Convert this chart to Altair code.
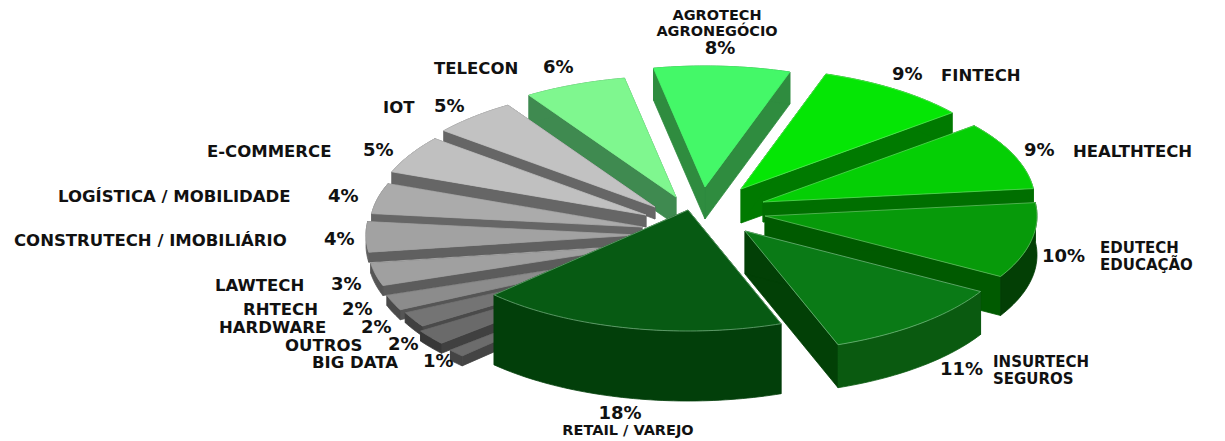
import math
import altair as alt

# Slices, counter-clockwise from the front, starting with Insurtech
slices = ["INSURTECH", "EDUTECH", "HEALTHTECH", "FINTECH", "AGROTECH", "TELECON", "IOT", "E-COMMERCE",
          "LOGISTICA", "CONSTRUTECH", "LAWTECH", "RHTECH", "HARDWARE", "OUTROS", "BIG DATA", "RETAIL"]
values = [11, 10, 9, 9, 8, 6, 5, 5, 4, 4, 3, 2, 2, 2, 1, 18]

# Style of each slice
top_color = ["#0a7a16", "#079a0a", "#05cf05", "#05e605", "#44f868", "#7ff78f", "#c2c2c2", "#c0c0c0",
             "#ababab", "#a2a2a2", "#a0a0a0", "#8c8c8c", "#747474", "#6a6a6a", "#6c6c6c", "#075a13"]
ray_color = ["#024006", "#005a00", "#006f00", "#007a00", "#2f8c3f", "#3f8a50", "#666666", "#666666",
             "#666666", "#606060", "#5c5c5c", "#555555", "#4a4a4a", "#404040", "#444444", "#023c0a"]
arc_color = ["#0a5a10", "#033f05", "#006f00", "#007a00", "#2f8c3f", "#3f8a50", "#666666", "#666666",
             "#666666", "#606060", "#555555", "#4a4a4a", "#404040", "#383838", "#444444", "#023f0a"]
edge_color = ["#6fb97a", "#5fc05f", "#55dd55", "#55ee55", "#44f868", "#7ff78f", "#c2c2c2", "#c0c0c0",
              "#ababab", "#a2a2a2", "#a0a0a0", "#8c8c8c", "#747474", "#6a6a6a", "#6c6c6c", "#6fa97a"]
# Explosion of each slice from the pie centre, and its thickness
explode_x = [55, 75, 73, 51, 15, -14, -35, -44, -48, -52, -50, -46, -41, -43, -34, -2]
explode_y = [1, -14, -28, -41, -43, -33, -23, -15, -3, 5, 16, 26, 29, 34, 41, -20]
thickness = [43, 39, 20, 34, 32, 28, 12, 12, 10, 10, 10, 10, 10, 10, 10, 70]
paint_order = [4, 3, 5, 6, 2, 7, 8, 9, 1, 10, 11, 12, 13, 14, 0, 15]

CENTER_X, CENTER_Y = 690, 230
RX, RY = 272, 121
START = -70.0

# Text labels
side_labels = ["TELECON", "IOT", "E-COMMERCE", "LOGÍSTICA / MOBILIDADE", "CONSTRUTECH / IMOBILIÁRIO",
               "LAWTECH", "RHTECH", "HARDWARE", "OUTROS", "BIG DATA", "FINTECH", "HEALTHTECH"]
side_x = [434, 383, 207, 58, 14, 215, 243, 219, 285, 312, 941, 1073]
side_y = [69, 108, 152, 197, 241, 286, 310, 328, 346, 363, 76, 152]
two_line_labels = ["EDUTECH", "EDUCAÇÃO", "INSURTECH", "SEGUROS"]
two_line_x = [1100, 1100, 993, 993]
two_line_y = [248, 265, 362, 379]
pct_labels = ["6%", "5%", "5%", "4%", "4%", "3%", "2%", "2%", "2%", "1%", "9%", "9%", "10%", "11%"]
pct_x = [543, 434, 363, 328, 324, 331, 342, 361, 388, 423, 892, 1024, 1042, 940]
pct_y = [68, 107, 151, 197, 240, 285, 310, 328, 345, 362, 75, 151, 257, 370]
center_labels = ["AGROTECH", "AGRONEGÓCIO", "RETAIL / VAREJO"]
center_x = [717, 717, 628]
center_y = [16, 32, 431]
center_pct = ["8%", "18%"]
center_pct_x = [720, 620]
center_pct_y = [49, 414]


def poly(points, fill, line):
    ring = [list(p) for p in points] + [list(points[0])]
    return {"type": "Feature", "geometry": {"type": "Polygon", "coordinates": [ring]},
            "properties": {"fill": fill, "line": line}}


per_unit = 360 / sum(values)
starts = []
angle = START
for v in values:
    starts.append(angle)
    angle += v * per_unit

features = []
for i in paint_order:
    ax, ay = CENTER_X + explode_x[i], CENTER_Y + explode_y[i]
    a0 = starts[i]
    a1 = a0 + values[i] * per_unit
    n = max(4, int(values[i] * 3))
    arc = []
    for k in range(n + 1):
        t = math.radians(a0 + (a1 - a0) * k / n)
        arc.append((ax + RX * math.cos(t), ay - RY * math.sin(t)))
    d = thickness[i]
    down = lambda p: (p[0], p[1] + d)
    apex = (ax, ay)
    for end in (arc[0], arc[-1]):
        features.append(poly([apex, end, down(end), down(apex)], ray_color[i], ray_color[i]))
    features.append(poly(arc + [down(p) for p in reversed(arc)], arc_color[i], arc_color[i]))
    features.append(poly([apex] + arc, top_color[i], edge_color[i]))

PROJ = dict(type="identity", scale=1, translate=[-8, -8])

shapes = alt.Chart(alt.Data(values=features)).mark_geoshape(strokeWidth=0.8).encode(
    fill=alt.Fill("properties.fill:N", scale=None),
    stroke=alt.Stroke("properties.line:N", scale=None),
).project(**PROJ)


def text_layer(labels, xs, ys, size, align):
    rows = [{"t": t, "px": x, "py": y} for t, x, y in zip(labels, xs, ys)]
    return alt.Chart(alt.Data(values=rows)).mark_text(
        font="DejaVu Sans", fontWeight="bold", fontSize=size, align=align, baseline="middle", color="#111111"
    ).encode(longitude="px:Q", latitude="py:Q", text="t:N").project(**PROJ)


chart = alt.layer(
    shapes,
    text_layer(side_labels, side_x, side_y, 16.5, "left"),
    text_layer(two_line_labels, two_line_x, two_line_y, 15, "left"),
    text_layer(pct_labels, pct_x, pct_y, 18, "left"),
    text_layer(center_labels, center_x, center_y, 14.5, "center"),
    text_layer(center_pct, center_pct_x, center_pct_y, 18, "center"),
).properties(width=1209, height=432, padding=0, background="white",
             autosize=alt.AutoSizeParams(type="none")).configure_view(stroke=None)

chart.save("out.html", embed_options={"renderer": "svg", "actions": False})
